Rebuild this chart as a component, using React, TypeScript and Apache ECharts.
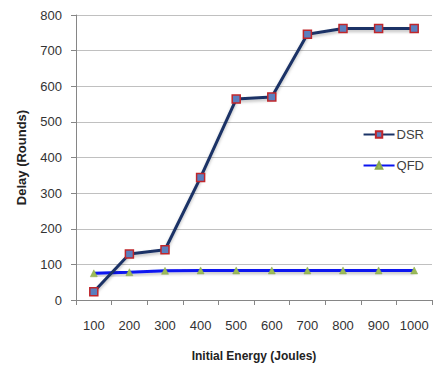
import React, { useEffect, useRef } from "react";
import * as echarts from "echarts";

const categories = ["100", "200", "300", "400", "500", "600", "700", "800", "900", "1000"];
const dsrValues = [23, 129, 141, 344, 564, 570, 746, 762, 762, 762];
const qfdValues = [75, 78, 82, 83, 83, 83, 83, 83, 83, 83];
const yTicks = { min: 0, max: 800, interval: 100 };

const FONT = "Liberation Sans";

export default function App() {
  const ref = useRef<HTMLDivElement>(null);
  useEffect(() => {
    if (!ref.current) return;
    const chart = echarts.init(ref.current, null, { renderer: "svg" });
    chart.setOption({
      animation: false,
      backgroundColor: "#ffffff",
      textStyle: { fontFamily: FONT },
      grid: { left: 76, top: 15, right: 1, bottom: 68, containLabel: false },
      legend: {
        orient: "vertical",
        right: 4,
        top: 123,
        itemGap: 18,
        itemWidth: 31,
        itemHeight: 8,
        textStyle: { fontFamily: FONT, fontSize: 13, color: "#404040", padding: [0, 0, 0, -3] },
        data: ["DSR", "QFD"],
      },
      xAxis: {
        type: "category",
        data: categories,
        boundaryGap: true,
        name: "Initial Energy (Joules)",
        nameLocation: "middle",
        nameGap: 50,
        nameTextStyle: { fontFamily: FONT, fontSize: 12, fontWeight: "bold", color: "#222" },
        axisLine: { lineStyle: { color: "#868686", width: 1 } },
        axisTick: { show: true, alignWithLabel: false, length: 5, lineStyle: { color: "#868686" } },
        axisLabel: { fontFamily: FONT, fontSize: 13, color: "#333", margin: 19, interval: 0 },
      },
      yAxis: {
        type: "value",
        min: yTicks.min,
        max: yTicks.max,
        interval: yTicks.interval,
        name: "Delay (Rounds)",
        nameLocation: "middle",
        nameGap: 48,
        nameTextStyle: { fontFamily: FONT, fontSize: 13, fontWeight: "bold", color: "#222" },
        axisLine: { show: true, lineStyle: { color: "#868686", width: 1 } },
        axisTick: { show: true, length: 5, lineStyle: { color: "#868686" } },
        axisLabel: { fontFamily: FONT, fontSize: 13, color: "#333", margin: 14 },
        splitLine: { show: true, lineStyle: { color: "#c0c0c0", width: 1 } },
      },
      series: [
        {
          name: "DSR",
          type: "line",
          data: dsrValues,
          symbol: "rect",
          symbolSize: 8,
          lineStyle: { color: "#1a3366", width: 3, shadowColor: "rgba(0,0,0,0.25)", shadowBlur: 3, shadowOffsetY: 2 },
          itemStyle: { color: "#5b7fbf", borderColor: "#c0262b", borderWidth: 1.5 },
          z: 3,
        },
        {
          name: "QFD",
          type: "line",
          data: qfdValues,
          symbol: "triangle",
          symbolSize: 7,
          lineStyle: { color: "#0a14f0", width: 3, shadowColor: "rgba(0,0,0,0.25)", shadowBlur: 3, shadowOffsetY: 2 },
          itemStyle: { color: "#9bbb59", borderColor: "#8aa84e", borderWidth: 0.5 },
          z: 2,
        },
      ],
    });
    return () => chart.dispose();
  }, []);
  return (
    <div
      ref={ref}
      style={{ position: "fixed", left: 0, top: 0, width: 433, height: 368 }}
    />
  );
}
